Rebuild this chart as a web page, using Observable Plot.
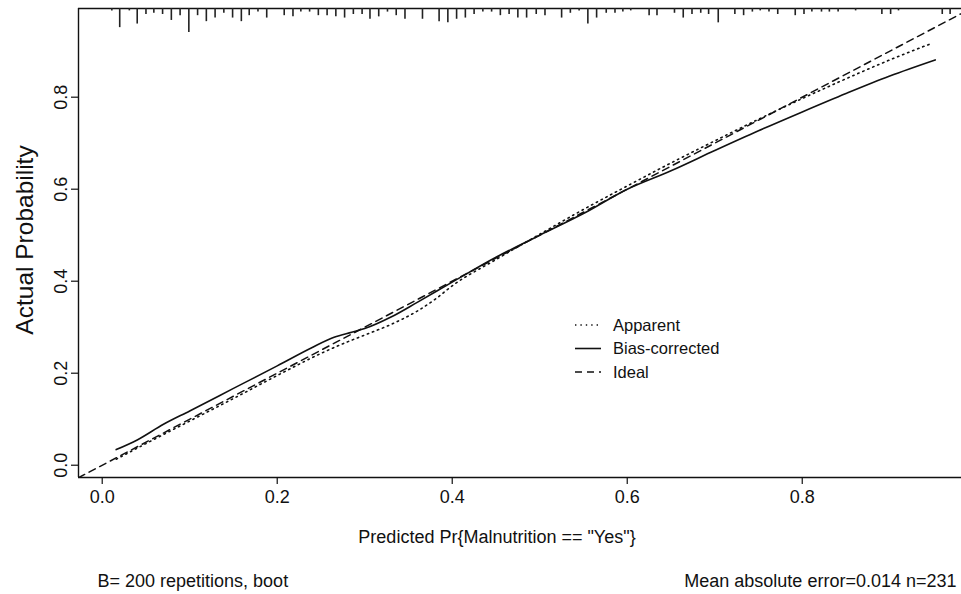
<!DOCTYPE html>
<html><head><meta charset="utf-8">
<script src="https://cdn.jsdelivr.net/npm/d3@7"></script>
<script src="https://cdn.jsdelivr.net/npm/@observablehq/plot@0.6"></script>
<style>body{margin:0;background:#fff;overflow:hidden}</style>
</head><body><div id="chart"></div>
<script>
// ---- data ----
const apparentX = [0.016, 0.05, 0.1, 0.15, 0.2, 0.25, 0.28, 0.3, 0.33, 0.36, 0.38, 0.4, 0.45, 0.5, 0.55, 0.6, 0.65, 0.7, 0.75, 0.8, 0.85, 0.9, 0.948];
const apparentY = [0.013, 0.047, 0.096, 0.145, 0.195, 0.243, 0.268, 0.283, 0.306, 0.335, 0.36, 0.39, 0.447, 0.502, 0.556, 0.607, 0.657, 0.705, 0.752, 0.797, 0.84, 0.881, 0.917];
const biasX = [0.016, 0.04, 0.07, 0.1, 0.15, 0.2, 0.24, 0.265, 0.285, 0.3, 0.33, 0.36, 0.4, 0.45, 0.5, 0.55, 0.6, 0.65, 0.7, 0.75, 0.8, 0.85, 0.9, 0.952];
const biasY = [0.034, 0.055, 0.089, 0.118, 0.167, 0.216, 0.256, 0.278, 0.289, 0.297, 0.322, 0.354, 0.398, 0.452, 0.5, 0.547, 0.6, 0.64, 0.684, 0.727, 0.768, 0.808, 0.846, 0.881];
const idealX = [-0.1, 1.1];
const idealY = [-0.1, 1.1];
const rugX = [0.011,0.020,0.031,0.040,0.050,0.059,0.069,0.079,0.089,0.099,0.109,0.119,0.129,0.139,0.149,0.159,0.168,0.178,0.188,0.208,0.218,0.227,0.237,0.247,0.257,0.267,0.277,0.287,0.297,0.306,0.316,0.326,0.336,0.346,0.366,0.385,0.395,0.405,0.415,0.425,0.435,0.445,0.455,0.465,0.475,0.485,0.496,0.506,0.525,0.535,0.545,0.555,0.565,0.576,0.586,0.595,0.604,0.625,0.634,0.654,0.664,0.674,0.684,0.693,0.704,0.723,0.733,0.743,0.752,0.762,0.772,0.792,0.802,0.811,0.822,0.831,0.841,0.861,0.891,0.901,0.910,0.960,0.969];
const rugN = [2,16,2,13,5,4,5,10,6,20,6,11,8,4,8,11,6,3,8,6,7,3,3,6,6,7,8,5,5,9,7,3,6,9,9,11,12,9,8,5,3,3,6,5,8,8,5,6,8,4,2,13,8,4,4,3,2,6,6,4,8,5,4,5,12,5,6,3,2,3,5,6,5,3,3,3,3,2,5,5,2,5,5];
const xTicks = [0, 0.2, 0.4, 0.6, 0.8];
const yTicks = [0, 0.2, 0.4, 0.6, 0.8];
const legendLabels = ["Apparent", "Bias-corrected", "Ideal"];
const xLabel = 'Predicted Pr{Malnutrition == "Yes"}';
const yLabel = "Actual Probability";
const footLeft = "B= 200 repetitions, boot";
const footRight = "Mean absolute error=0.014 n=231";

// ---- layout / style ----
const W = 961, H = 594;
const xDomain = [-0.0271, 0.982];
const yDomain = [-0.0267, 0.9928];
const spikeUnit = 0.0026;
const ink = "#111";
const font = "'Liberation Sans', Arial, Helvetica, sans-serif";

const apparent = apparentX.map((x, i) => ({x, y: apparentY[i]}));
const bias = biasX.map((x, i) => ({x, y: biasY[i]}));
const ideal = idealX.map((x, i) => ({x, y: idealY[i]}));
const rug = rugX.map((x, i) => ({x, n: rugN[i]}));

const chart = Plot.plot({
  width: W, height: H,
  marginLeft: 78, marginTop: 8, marginBottom: 117, marginRight: 0,
  x: {domain: xDomain},
  y: {domain: yDomain},
  style: {fontFamily: font, fontSize: "18px", color: ink, background: "#fff", overflow: "visible"},
  marks: [
    Plot.ruleY([yDomain[0], yDomain[1]], {stroke: ink, strokeWidth: 1.4}),
    Plot.ruleX([xDomain[0]], {stroke: ink, strokeWidth: 1.4}),
    Plot.axisX({ticks: xTicks, tickSize: 7, tickPadding: 6, tickFormat: d3.format(".1f"), label: null, fontSize: 18, stroke: ink, strokeWidth: 1.2}),
    Plot.axisY({ticks: yTicks, tickSize: 7, tickFormat: () => "", label: null, stroke: ink, strokeWidth: 1.2}),
    Plot.text(yTicks, {y: d => d, frameAnchor: "left", text: d => d3.format(".1f")(d), rotate: -90, dx: -12, textAnchor: "middle", lineAnchor: "bottom", fontSize: 18, fill: ink}),
    Plot.ruleX(rug, {x: "x", y1: yDomain[1], y2: d => yDomain[1] - d.n * spikeUnit, stroke: "#222", strokeWidth: 1.6}),
    Plot.line(ideal, {x: "x", y: "y", stroke: ink, strokeWidth: 1.5, strokeDasharray: "7,5", clip: true}),
    Plot.line(apparent, {x: "x", y: "y", stroke: ink, strokeWidth: 1.6, strokeDasharray: "1.4,4", curve: "monotone-x"}),
    Plot.line(bias, {x: "x", y: "y", stroke: ink, strokeWidth: 1.6, curve: "monotone-x"}),
    Plot.text([yLabel], {frameAnchor: "left", rotate: -90, dx: -53, dy: -3, textAnchor: "middle", fontSize: 24.5, fill: ink, lineAnchor: "middle"}),
    Plot.text([xLabel], {frameAnchor: "bottom", dy: 60, fontSize: 18, fill: ink, lineAnchor: "middle", dx: -23}),
    Plot.text([footLeft], {frameAnchor: "bottom-left", dy: 104, dx: 19, textAnchor: "start", fontSize: 18, fill: ink, lineAnchor: "middle"}),
    Plot.text([footRight], {frameAnchor: "bottom-right", dy: 104, dx: -5, textAnchor: "end", fontSize: 18, fill: ink, lineAnchor: "middle"})
  ]
});

// legend inside the plot area
const lg = d3.select(chart).append("g").attr("transform", "translate(575,325)")
  .attr("font-family", font).attr("font-size", 16.5).attr("fill", ink)
  .attr("text-anchor", "start");
const dashes = ["1.4,4", null, "7,5"];
legendLabels.forEach((lab, i) => {
  const g = lg.append("g").attr("transform", `translate(0,${i * 23.5})`);
  g.append("line").attr("x1", 0).attr("x2", 26).attr("y1", 0).attr("y2", 0)
    .attr("stroke", ink).attr("stroke-width", 1.6)
    .attr("stroke-dasharray", dashes[i]);
  g.append("text").attr("x", 38).attr("y", 0).attr("dy", "0.35em").attr("text-anchor", "start").text(lab);
});

document.getElementById("chart").appendChild(chart);
</script>
</body></html>
